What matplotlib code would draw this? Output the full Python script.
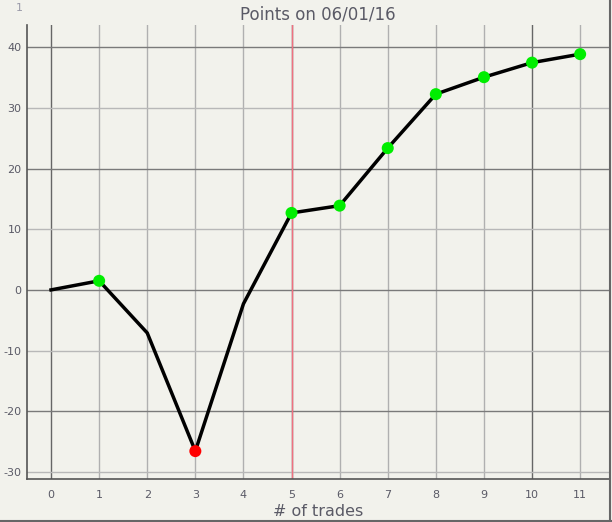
import matplotlib
matplotlib.use('Agg')
import matplotlib.pyplot as plt

plt.rcParams['axes.unicode_minus'] = False

trades = [0, 1, 2, 3, 4, 5, 6, 7, 8, 9, 10, 11]
points = [0, 1.5, -7.1, -26.6, -2.3, 12.7, 13.9, 23.4, 32.3, 35.1, 37.5, 38.9]
win_idx = [1, 5, 6, 7, 8, 9, 10, 11]
loss_idx = [3]
today = 5

bg = '#f2f2ec'
txt = '#5a5a66'

fig = plt.figure(figsize=(6.12, 5.22), dpi=100, facecolor=bg)
ax = fig.add_axes([0.0441, 0.0824, 0.951, 0.8696], facecolor=bg)

ax.set_xlim(-0.5, 11.6)
ax.set_ylim(-31.2, 43.7)

# grid: light lines everywhere, darker ones on "major" values
for x in trades:
    dark = x % 5 == 0
    ax.axvline(x, color='#666666' if dark else '#b0b0b0', lw=1, zorder=1)
for y in range(-30, 41, 10):
    dark = y % 20 == 0
    ax.axhline(y, color='#7a7a7a' if dark else '#b8b8b8', lw=1, zorder=1)
ax.axvline(today, color='#f07080', lw=1, zorder=2)

ax.plot(trades, points, color='black', lw=2.5, zorder=3)
ax.scatter([trades[i] for i in win_idx], [points[i] for i in win_idx],
           s=75, color='#00ee00', zorder=4, edgecolors='none')
ax.scatter([trades[i] for i in loss_idx], [points[i] for i in loss_idx],
           s=75, color='#ff0000', zorder=4, edgecolors='none')

ax.set_xticks(trades)
ax.set_yticks(range(-30, 41, 10))
ax.tick_params(axis='both', colors='#555555', labelcolor=txt, labelsize=8, length=0)
ax.tick_params(axis='x', pad=8)
ax.tick_params(axis='y', pad=4)
for s in ['top', 'right']:
    ax.spines[s].set_visible(False)
for s in ['left', 'bottom']:
    ax.spines[s].set_color('#555555')
    ax.spines[s].set_linewidth(1.2)

ax.set_title('Points on 06/01/16', fontsize=12, color=txt, pad=4)
ax.set_xlabel('# of trades', fontsize=11.5, color=txt, labelpad=3)

fig.text(0.031, 0.995, '1', fontsize=8, color='#9a9aa8', ha='center', va='top')

# figure border on right and bottom
fig.add_artist(plt.Line2D([0.997, 0.997], [0, 1], color='#666666', lw=1.5, transform=fig.transFigure))
fig.add_artist(plt.Line2D([0, 1], [0.002, 0.002], color='#666666', lw=1.5, transform=fig.transFigure))

fig.savefig('out.png', dpi=100, facecolor=bg)
